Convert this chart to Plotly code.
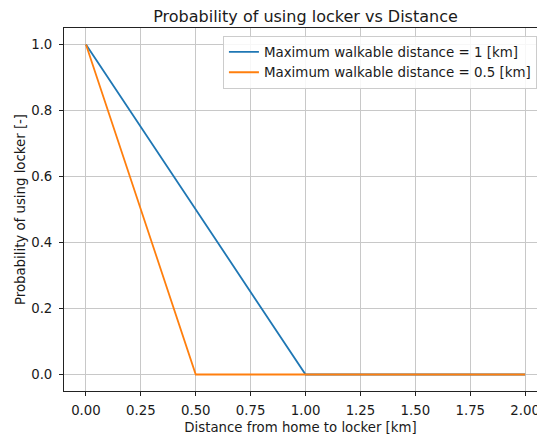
import plotly.graph_objects as go

# Data
x_blue = [0.0, 1.0, 2.0]
y_blue = [1.0, 0.0, 0.0]
x_orange = [0.0, 0.5, 2.0]
y_orange = [1.0, 0.0, 0.0]
name_blue = "Maximum walkable distance = 1 [km]"
name_orange = "Maximum walkable distance = 0.5 [km]"
x_ticks = [0, 0.25, 0.5, 0.75, 1.0, 1.25, 1.5, 1.75, 2.0]
x_tick_labels = ["0.00", "0.25", "0.50", "0.75", "1.00", "1.25", "1.50", "1.75", "2.00"]
y_ticks = [0.0, 0.2, 0.4, 0.6, 0.8, 1.0]
y_tick_labels = ["0.0", "0.2", "0.4", "0.6", "0.8", "1.0"]

FONT = "DejaVu Sans"
TXT = "#1a1a1a"
FS = 13.3

fig = go.Figure()
fig.add_trace(go.Scatter(x=x_blue, y=y_blue, mode="lines", name=name_blue,
                         line=dict(color="#1f77b4", width=1.8)))
fig.add_trace(go.Scatter(x=x_orange, y=y_orange, mode="lines", name=name_orange,
                         line=dict(color="#ff7f0e", width=1.8)))

fig.update_layout(
    width=537, height=435,
    margin=dict(l=64, r=0, t=28, b=44, autoexpand=False),
    paper_bgcolor="white", plot_bgcolor="white",
    font=dict(family=FONT, size=FS, color=TXT),
    title=dict(text="Probability of using locker vs Distance", x=0.5106, xanchor="center",
               xref="paper", y=1 - 16 / 435, yref="container", yanchor="middle",
               font=dict(family=FONT, size=16, color=TXT)),
    legend=dict(x=0.336, y=0.979, xanchor="left", yanchor="top",
                bgcolor="rgba(255,255,255,0.85)", bordercolor="#cccccc", borderwidth=1,
                font=dict(family=FONT, size=13.4, color=TXT), itemwidth=30,
                tracegroupgap=0),
    showlegend=True,
)
fig.update_xaxes(
    range=[-0.1, 2.054], tickmode="array", tickvals=x_ticks, ticktext=x_tick_labels,
    showgrid=True, gridcolor="#c8c8c8", gridwidth=1,
    showline=True, linecolor="#222222", linewidth=1, mirror=True,
    ticks="outside", ticklen=4, tickcolor="#222222", ticklabelstandoff=3,
    zeroline=False, ticklabeloverflow="allow", automargin=False,
    title=dict(text="Distance from home to locker [km]", standoff=7,
               font=dict(family=FONT, size=FS, color=TXT)),
)
fig.update_yaxes(
    range=[-0.05, 1.05], tickmode="array", tickvals=y_ticks, ticktext=y_tick_labels,
    showgrid=True, gridcolor="#c8c8c8", gridwidth=1,
    showline=True, linecolor="#222222", linewidth=1, mirror=False,
    ticks="outside", ticklen=4, tickcolor="#222222", ticklabelstandoff=4,
    zeroline=False, automargin=False,
    title=dict(text="Probability of using locker [-]", standoff=2,
               font=dict(family=FONT, size=FS, color=TXT)),
)

fig.write_html("out.html")
